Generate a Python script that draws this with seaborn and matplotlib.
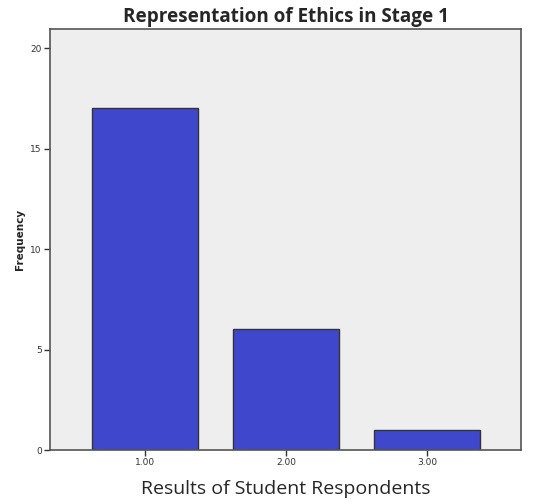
import matplotlib
matplotlib.use("Agg")
import matplotlib.pyplot as plt
import seaborn as sns
import pandas as pd

categories = ["1.00", "2.00", "3.00"]
frequencies = [17, 6, 1]
y_ticks = [0, 5, 10, 15, 20]

sns.set_theme(style="white")
plt.rcParams['font.family'] = ['DejaVu Sans']

df = pd.DataFrame({"cat": categories, "freq": frequencies})

fig = plt.figure(figsize=(5.52, 5.04), dpi=100)
ax = fig.add_axes([0.0906, 0.107, 0.8532, 0.8355])
ax.set_facecolor("#EEEEEE")
sns.barplot(data=df, x="cat", y="freq", color="#3F48CC", saturation=1,
            width=0.75, edgecolor="#333333", linewidth=1.0, ax=ax)
ax.set_xlim(-0.674, 2.667)
ax.set_ylim(0, 20.95)
ax.set_yticks(y_ticks)
ax.set_yticklabels([str(v) for v in y_ticks], fontsize=6.5, color="#333333")
ax.set_xticks(range(len(categories)))
ax.set_xticklabels(categories, fontsize=6.5, color="#333333")
ax.tick_params(axis="both", direction="out", length=4, width=1, color="#333333",
               bottom=True, left=True, pad=2)
for s in ax.spines.values():
    s.set_color("#555555")
    s.set_linewidth(1.2)
ax.set_ylabel("Frequency", fontsize=7.5, fontweight="bold", labelpad=4)
ax.set_xlabel("Results of Student Respondents", fontsize=14, family="Open Sans", labelpad=9)
fig.text(0.519, 0.966, "Representation of Ethics in Stage 1", ha="center", va="center",
         fontsize=13.6, fontweight="bold", family="Open Sans")
fig.savefig("out.png", dpi=100, facecolor="white")
